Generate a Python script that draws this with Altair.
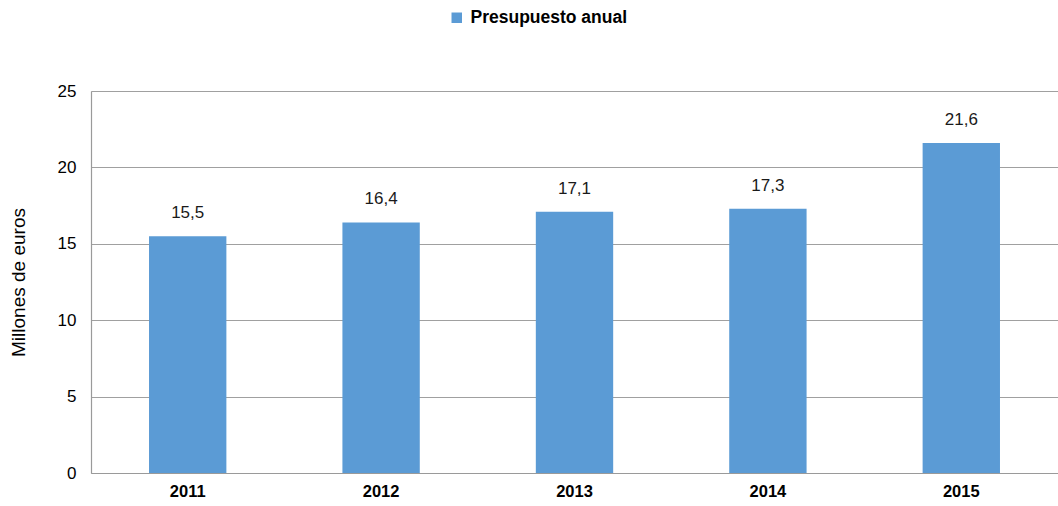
import altair as alt
import pandas as pd

years = ["2011", "2012", "2013", "2014", "2015"]
values = [15.5, 16.4, 17.1, 17.3, 21.6]
labels = ["15,5", "16,4", "17,1", "17,3", "21,6"]
series = ["Presupuesto anual"] * 5

df = pd.DataFrame({"year": years, "value": values, "label": labels, "serie": series})

FONT = "Liberation Sans"

base = alt.Chart(df)

bars = base.mark_bar(color="#5B9BD5").encode(
    x=alt.X("year:N", title=None,
            scale=alt.Scale(paddingInner=0.6, paddingOuter=0.3),
            axis=alt.Axis(labelAngle=0, labelFontWeight="bold", labelFontSize=16.5,
                          labelColor="#000000", labelPadding=10, ticks=False,
                          domainColor="#9A9A9A", domainWidth=1.2, labelFont=FONT)),
    y=alt.Y("value:Q", title="Millones de euros",
            scale=alt.Scale(domain=[0, 25], nice=False),
            axis=alt.Axis(values=[0, 5, 10, 15, 20, 25], ticks=False, labelPadding=15,
                          labelFontSize=17, labelColor="#000000", labelFont=FONT,
                          grid=True, gridColor="#A0A0A0", gridWidth=1.2,
                          domainColor="#9A9A9A", domainWidth=1.2,
                          titleFont=FONT, titleFontSize=19, titleFontWeight="normal",
                          titleColor="#000000", titleAngle=-90, titleX=-73, titleY=191,
                          titleAlign="center", titleBaseline="middle")),
    color=alt.Color("serie:N", scale=alt.Scale(range=["#5B9BD5"]),
                    legend=alt.Legend(title=None, orient="none", legendX=357, legendY=-82,
                                      symbolType="square", symbolSize=110,
                                      labelFont=FONT, labelFontSize=17.5, labelColor="#000000",
                                      labelFontWeight="bold", labelOffset=5, labelLimit=400)),
)

text = base.mark_text(baseline="bottom", dy=-14, fontSize=17, font=FONT, color="#1a1a1a").encode(
    x="year:N",
    y="value:Q",
    text="label:N",
)

chart = (bars + text).properties(
    width=967, height=382,
    padding={"left": 91, "top": 91, "right": 0, "bottom": 33},
    autosize=alt.AutoSizeParams(type="none"),
).configure_view(stroke=None).configure(background="white")

chart.save("out.html", embed_options={"renderer": "svg", "actions": False})
